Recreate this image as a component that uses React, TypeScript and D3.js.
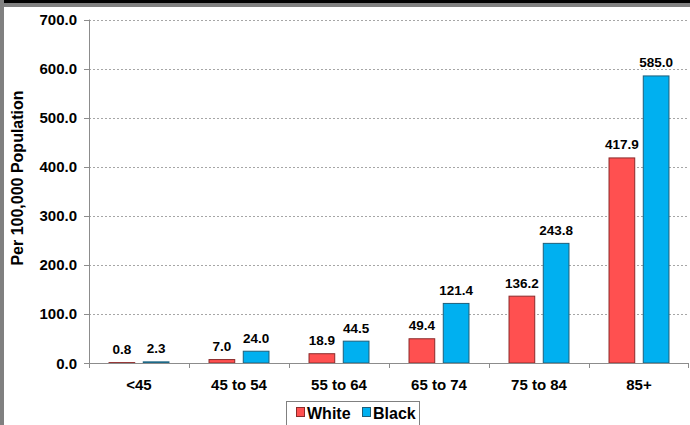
import React from "react";
import * as d3 from "d3";

const categories = ["<45", "45 to 54", "55 to 64", "65 to 74", "75 to 84", "85+"];
const seriesNames = ["White", "Black"];
const whiteValues = [0.8, 7.0, 18.9, 49.4, 136.2, 417.9];
const blackValues = [2.3, 24.0, 44.5, 121.4, 243.8, 585.0];
const yTicks = [0, 100, 200, 300, 400, 500, 600, 700];

const colors = ["#FF5050", "#00B0F0"];
const strokes = ["#8B2A2A", "#1F5F7A"];

const W = 690;
const H = 425;
const left = 89;
const right = 689;
const top = 19.5;
const bottom = 363;

export default function App() {
  const x = d3.scaleBand<string>().domain(categories).range([left, right]).paddingInner(0).paddingOuter(0);
  const inner = d3.scaleBand<string>().domain(seriesNames).range([0, x.bandwidth()]).paddingInner(0.22).paddingOuter(0.57);
  const y = d3.scaleLinear().domain([0, 700]).range([bottom, top]);
  const series = [whiteValues, blackValues];
  const font = "'Liberation Sans', Arial, sans-serif";

  return (
    <svg width={W} height={H} style={{ position: "absolute", left: 0, top: 0, background: "#fff" }} fontFamily={font}>
      <rect x={0} y={0} width={W} height={H} fill="#fff" />
      {/* frame */}
      <rect x={0} y={0} width={W} height={3.5} fill="#000" />
      <rect x={0} y={3.5} width={W} height={3.5} fill="#808080" />
      <rect x={0} y={0} width={4} height={H} fill="#808080" />

      {/* gridlines */}
      {yTicks.filter((t) => t > 0).map((t) => (
        <line key={t} x1={left} x2={right} y1={Math.round(y(t)) + 0.5} y2={Math.round(y(t)) + 0.5}
          stroke="#a6a6a6" strokeWidth={1} strokeDasharray="2,2" />
      ))}

      {/* y axis */}
      <line x1={left + 0.5} x2={left + 0.5} y1={top} y2={bottom} stroke="#8c8c8c" />
      {yTicks.map((t) => (
        <g key={t}>
          <line x1={left - 5} x2={left} y1={Math.round(y(t)) + 0.5} y2={Math.round(y(t)) + 0.5} stroke="#8c8c8c" />
          <text x={77} y={y(t) + 5.5} textAnchor="end" fontSize={15} fontWeight="bold" fill="#000">
            {t.toFixed(1)}
          </text>
        </g>
      ))}
      <text transform={`translate(23,178) rotate(-90)`} textAnchor="middle" fontSize={16} fontWeight="bold" fill="#000">
        Per 100,000 Population
      </text>

      {/* bars */}
      {categories.map((c, i) => (
        <g key={c}>
          {series.map((vals, s) => {
            const bx = (x(c) as number) + (inner(seriesNames[s]) as number);
            const bw = inner.bandwidth();
            const v = vals[i];
            return (
              <g key={s}>
                <rect x={bx + 0.5} y={y(v)} width={bw - 1} height={bottom - y(v)} fill={colors[s]} stroke={strokes[s]} strokeWidth={1} />
                <text x={bx + bw / 2} y={y(v) - 8.5} textAnchor="middle" fontSize={13.5} fontWeight="bold" fill="#000">
                  {v.toFixed(1)}
                </text>
              </g>
            );
          })}
          <text x={(x(c) as number) + x.bandwidth() / 2} y={390} textAnchor="middle" fontSize={15} fontWeight="bold" fill="#000">
            {c}
          </text>
        </g>
      ))}

      {/* x axis */}
      <line x1={left - 5} x2={right} y1={bottom + 0.5} y2={bottom + 0.5} stroke="#8c8c8c" />
      {categories.map((c) => (
        <line key={c} x1={Math.round(x(c) as number) + 0.5} x2={Math.round(x(c) as number) + 0.5} y1={bottom} y2={bottom + 5} stroke="#8c8c8c" />
      ))}
      <line x1={right - 0.5} x2={right - 0.5} y1={bottom} y2={bottom + 5} stroke="#8c8c8c" />

      {/* legend */}
      <rect x={286.5} y={401.5} width={133} height={30} fill="#fff" stroke="#808080" />
      {seriesNames.map((n, s) => (
        <g key={n} transform={`translate(${296 + s * 66},0)`}>
          <rect x={0.5} y={407.5} width={8} height={9} fill={colors[s]} stroke={strokes[s]} />
          <text x={11} y={419} fontSize={16} fontWeight="bold" fill="#000">{n}</text>
        </g>
      ))}
    </svg>
  );
}
